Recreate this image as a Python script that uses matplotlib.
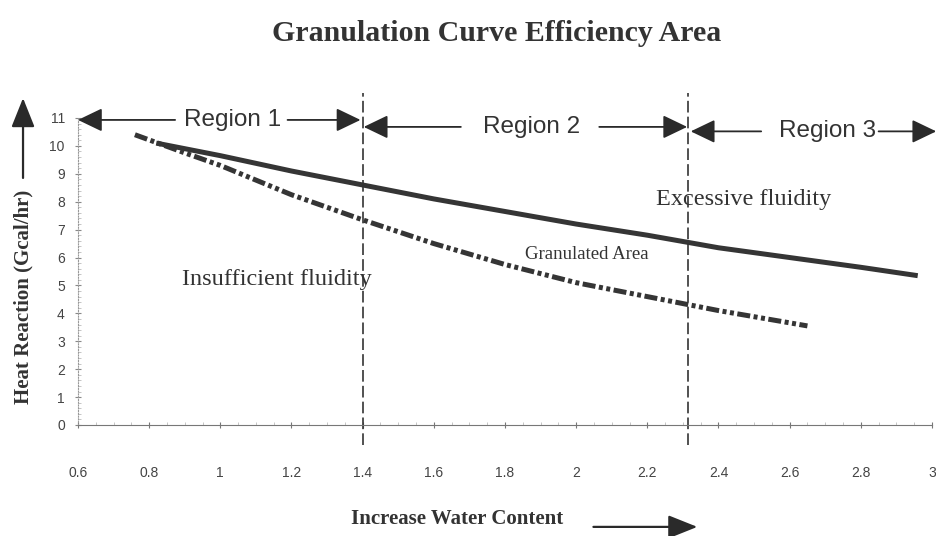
import matplotlib.pyplot as plt
from matplotlib.ticker import MultipleLocator

# upper limit of granulation (solid line)
upper_x = [0.82, 1.0, 1.2, 1.4, 1.6, 1.8, 2.0, 2.2, 2.4, 2.6, 2.8, 2.96]
upper_y = [10.1, 9.65, 9.1, 8.6, 8.1, 7.65, 7.2, 6.8, 6.35, 6.0, 5.65, 5.35]

# lower limit of granulation (dash-dot-dot line)
lower_x = [0.76, 0.9, 1.0, 1.2, 1.4, 1.6, 1.8, 2.0, 2.2, 2.4, 2.65]
lower_y = [10.4, 9.75, 9.3, 8.25, 7.35, 6.5, 5.75, 5.1, 4.6, 4.1, 3.55]

# region boundaries
boundaries = [1.4, 2.315]

x_ticks = [0.6, 0.8, 1.0, 1.2, 1.4, 1.6, 1.8, 2.0, 2.2, 2.4, 2.6, 2.8, 3.0]
x_tick_labels = ['0.6', '0.8', '1', '1.2', '1.4', '1.6', '1.8', '2', '2.2', '2.4', '2.6', '2.8', '3']
y_ticks = list(range(0, 12))

serif = 'Liberation Serif'
sans = 'Liberation Sans'
ink = '#333333'

fig = plt.figure(figsize=(9.36, 5.36), dpi=100)
ax = fig.add_axes([0.0833, 0.2071, 0.9124, 0.5728])

ax.plot(upper_x, upper_y, color='#353535', lw=3.6, solid_capstyle='butt')
ax.plot(lower_x, lower_y, color='#353535', lw=3.6, dash_capstyle='butt',
        dashes=(2.6, 0.7, 0.8, 0.7, 0.8, 0.7))

for b in boundaries:
    ax.plot([b, b], [-0.7, 11.9], color=ink, lw=1.2, dashes=(7, 2.5), clip_on=False)

ax.set_xlim(0.6, 3.0)
ax.set_ylim(0, 11)
ax.set_xticks(x_ticks)
ax.set_xticklabels(x_tick_labels)
ax.set_yticks(y_ticks)
ax.xaxis.set_minor_locator(MultipleLocator(0.05))
ax.yaxis.set_minor_locator(MultipleLocator(0.2))

for s in ['top', 'right']:
    ax.spines[s].set_visible(False)
ax.spines['left'].set_color('#999999')
ax.spines['left'].set_linestyle((0, (1, 1.5)))
ax.spines['left'].set_linewidth(0.8)
ax.spines['bottom'].set_color('#777777')
ax.spines['bottom'].set_linewidth(0.8)

ax.tick_params(axis='x', which='major', direction='inout', length=5, pad=27,
               colors='#777777', labelcolor='#444444', labelsize=10)
ax.tick_params(axis='y', which='major', direction='inout', length=5, pad=7,
               colors='#888888', labelcolor='#444444', labelsize=10)
ax.tick_params(which='minor', direction='in', length=2, colors='#bbbbbb')
for lab in ax.get_xticklabels() + ax.get_yticklabels():
    lab.set_family(sans)

# region arrows
head = dict(arrowstyle='-|>,head_length=0.75,head_width=0.36', color='#2a2a2a',
            lw=1.3, mutation_scale=20, shrinkA=0, shrinkB=0)
regions = [
    ('Region 1', 1.034, 10.93, (0.873, 0.6), (1.189, 1.394)),
    ('Region 2', 1.876, 10.68, (1.676, 1.403), (2.065, 2.312)),
    ('Region 3', 2.707, 10.52, (2.52, 2.322), (2.85, 3.012)),
]
for name, cx, cy, left, right in regions:
    ax.text(cx, cy, name, ha='center', va='center', fontsize=17.5, family=sans, color=ink)
    ax.annotate('', xy=(left[1], cy), xytext=(left[0], cy), arrowprops=head,
                annotation_clip=False)
    ax.annotate('', xy=(right[1], cy), xytext=(right[0], cy), arrowprops=head,
                annotation_clip=False)

ax.text(1.16, 5.2, 'Insufficient fluidity', ha='center', va='center',
        fontsize=17.5, family=serif, color=ink)
ax.text(2.47, 8.07, 'Excessive fluidity', ha='center', va='center',
        fontsize=17.5, family=serif, color=ink)
ax.text(2.03, 6.1, 'Granulated Area', ha='center', va='center',
        fontsize=13.5, family=serif, color=ink)

fig.text(0.531, 0.938, 'Granulation Curve Efficiency Area', ha='center', va='center',
         fontsize=21.5, fontweight='bold', family=serif, color=ink)
fig.text(0.488, 0.032, 'Increase Water Content', ha='center', va='center',
         fontsize=15, fontweight='bold', family=serif, color=ink)
fig.text(0.0246, 0.446, 'Heat Reaction (Gcal/hr)', ha='center', va='center', rotation=90,
         fontsize=15, fontweight='bold', family=serif, color=ink)

fig_head = dict(arrowstyle='-|>,head_length=0.9,head_width=0.36', color='#2a2a2a',
                lw=1.6, mutation_scale=20, shrinkA=0, shrinkB=0)
fig.add_artist(plt.matplotlib.patches.FancyArrowPatch(
    (0.634, 0.017), (0.745, 0.017), transform=fig.transFigure, **fig_head))
fig.add_artist(plt.matplotlib.patches.FancyArrowPatch(
    (0.0246, 0.668), (0.0246, 0.817), transform=fig.transFigure, **fig_head))

fig.savefig('out.png', dpi=100)
